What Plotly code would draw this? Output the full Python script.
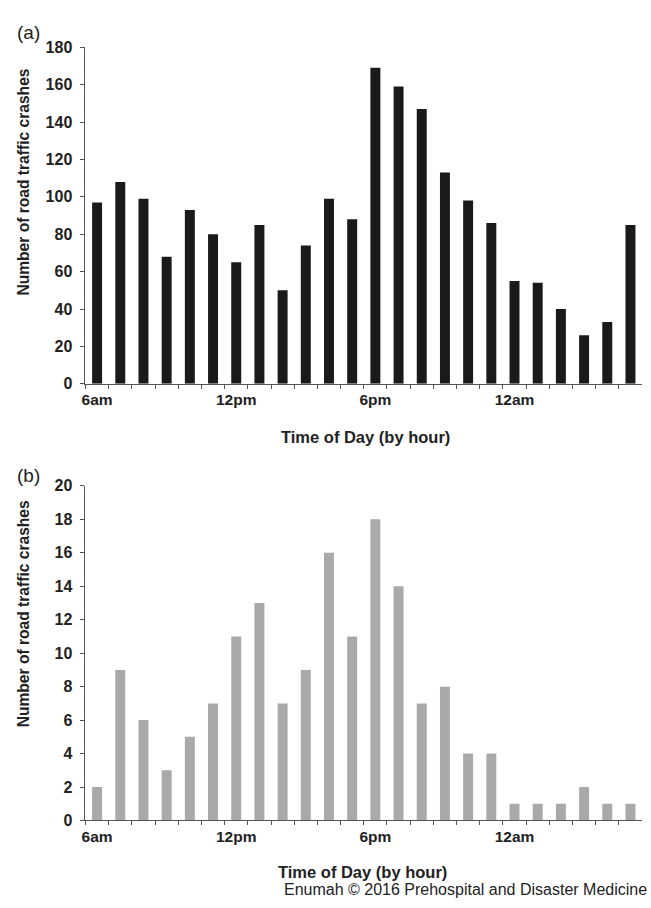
import plotly.graph_objects as go

hours = ["6am", "7am", "8am", "9am", "10am", "11am", "12pm", "1pm", "2pm", "3pm", "4pm", "5pm",
         "6pm", "7pm", "8pm", "9pm", "10pm", "11pm", "12am", "1am", "2am", "3am", "4am", "5am"]
shown_labels = ["6am", "12pm", "6pm", "12am"]
crashes_a = [97, 108, 99, 68, 93, 80, 65, 85, 50, 74, 99, 88,
             169, 159, 147, 113, 98, 86, 55, 54, 40, 26, 33, 85]
crashes_b = [2, 9, 6, 3, 5, 7, 11, 13, 7, 9, 16, 11,
             18, 14, 7, 8, 4, 4, 1, 1, 1, 2, 1, 1]
yticks_a = [0, 20, 40, 60, 80, 100, 120, 140, 160, 180]
yticks_b = [0, 2, 4, 6, 8, 10, 12, 14, 16, 18, 20]

W, H = 651, 908
FONT = "Liberation Sans"
AXC = "#555555"

def px_x(p):
    return p / W

def px_y(p):
    return 1 - p / H

ticktext = [h if h in shown_labels else "" for h in hours]

fig = go.Figure()
fig.add_trace(go.Bar(x=hours, y=crashes_a, marker=dict(color="#1a1a1a", line=dict(width=0)),
                     xaxis="x", yaxis="y", showlegend=False))
fig.add_trace(go.Bar(x=hours, y=crashes_b, marker=dict(color="#a9a9a9", line=dict(width=0)),
                     xaxis="x2", yaxis="y2", showlegend=False))

xdom = [px_x(82), px_x(642)]
common_x = dict(type="category", categoryorder="array", categoryarray=hours,
                range=[-0.5, 23.5], tickmode="array", tickvals=hours, ticktext=ticktext,
                tickson="boundaries", ticks="outside", ticklen=4, tickwidth=1, tickcolor=AXC,
                showline=True, linecolor=AXC, linewidth=1, showgrid=False, zeroline=False,
                tickfont=dict(family=FONT, size=15.5, color="#222", weight="bold"),
                tickangle=0, domain=xdom, ticklabelstandoff=2)
common_y = dict(ticks="outside", ticklen=4, tickwidth=1, tickcolor=AXC, showline=True,
                linecolor=AXC, linewidth=1, showgrid=False, zeroline=False,
                tickfont=dict(family=FONT, size=16, color="#222", weight="bold"),
                tickmode="array", ticklabelstandoff=5)

fig.update_layout(
    width=W, height=H, margin=dict(l=0, r=0, t=0, b=0),
    paper_bgcolor="white", plot_bgcolor="white", bargap=0.57,
    xaxis=dict(**common_x, anchor="y"),
    xaxis2=dict(**common_x, anchor="y2"),
    yaxis=dict(**common_y, range=[0, 180], tickvals=yticks_a,
               domain=[px_y(383), px_y(40)], anchor="x"),
    yaxis2=dict(**common_y, range=[0, 20], tickvals=yticks_b,
                domain=[px_y(828), px_y(487)], anchor="x2"),
)

ann_font_b = dict(family=FONT, size=16.5, color="#222", weight="bold")
ylab_font = dict(family=FONT, size=15.6, color="#222", weight="bold")
annotations = [
    dict(text="(a)", x=px_x(11), y=px_y(25), xanchor="left", yanchor="middle",
         font=dict(family=FONT, size=19, color="#222")),
    dict(text="(b)", x=px_x(11), y=px_y(476), xanchor="left", yanchor="middle",
         font=dict(family=FONT, size=19, color="#222")),
    dict(text="Number of road traffic crashes", x=px_x(20), y=px_y(177), textangle=-90,
         xanchor="center", yanchor="middle", font=ylab_font),
    dict(text="Number of road traffic crashes", x=px_x(20), y=px_y(617), textangle=-90,
         xanchor="center", yanchor="middle", font=ylab_font),
    dict(text="Time of Day (by hour)", x=px_x(364), y=px_y(437), xanchor="center",
         yanchor="middle", font=ann_font_b),
    dict(text="Time of Day (by hour)", x=px_x(361), y=px_y(880), xanchor="center",
         yanchor="middle", font=ann_font_b),
    dict(text="Enumah © 2016 Prehospital and Disaster Medicine", x=px_x(649), y=px_y(898),
         xanchor="right", yanchor="middle",
         font=dict(family=FONT, size=16, color="#222")),
]
for a in annotations:
    a.update(xref="paper", yref="paper", showarrow=False)
fig.update_layout(annotations=annotations)

fig.write_html("out.html", config={"displayModeBar": False},
               post_script="document.body.style.margin='0';document.body.style.overflow='hidden';")
